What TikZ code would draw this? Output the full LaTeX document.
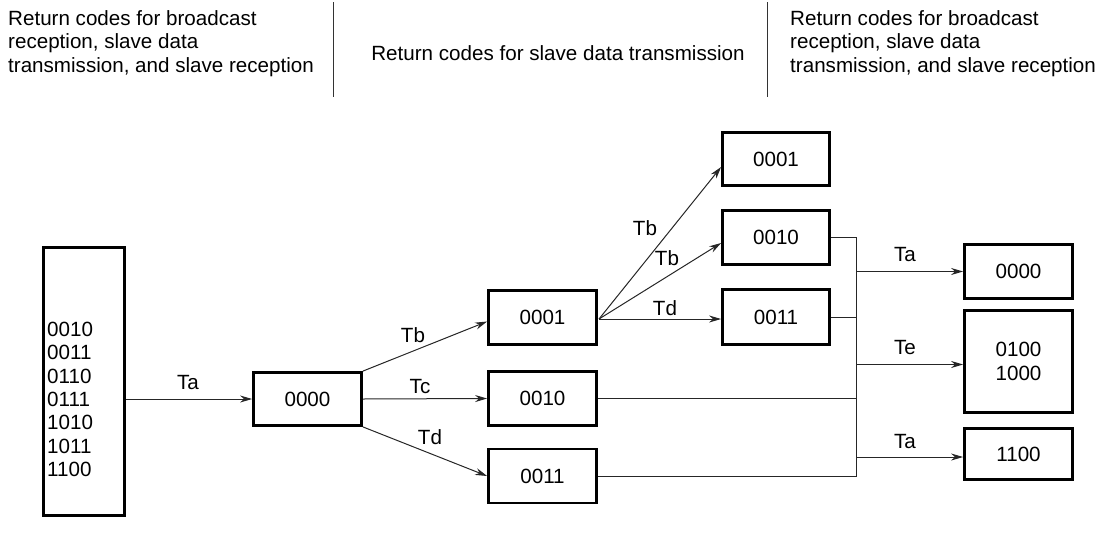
\documentclass[tikz,border=0pt]{standalone}
\usepackage{fontspec}
\setmainfont{Liberation Sans}
\usetikzlibrary{arrows.meta}
\begin{document}
\begin{tikzpicture}[x=1pt,y=-1pt,
  every node/.style={font=\fontsize{20.6}{23.3}\selectfont},
  codebox/.style={draw, line width=2.8pt, inner sep=0pt, minimum width=108pt, minimum height=54pt},
  lbl/.style={inner sep=0pt},
  conn/.style={line width=1pt, black!85},
  arr/.style={conn, -{Stealth[length=12pt,width=7pt]}},
  sep/.style={line width=0.9pt, black!80}]
\useasboundingbox (0,0) rectangle (1107,546);
% header
\node[lbl, anchor=west, align=left] (hl) at (8,43.5) {Return codes for broadcast\\reception, slave data\\transmission, and slave reception};
\node[lbl] (hm) at (558,53) {Return codes for slave data transmission};
\node[lbl, anchor=west, align=left] (hr) at (790,43.5) {Return codes for broadcast\\reception, slave data\\transmission, and slave reception};
\coordinate (s1a) at (333,2); \coordinate (s1b) at (333,97);
\coordinate (s2a) at (767,2); \coordinate (s2b) at (767,97);
\draw[sep] (s1a) -- (s1b);
\draw[sep] (s2a) -- (s2b);
% boxes
\node[codebox, minimum width=81pt, minimum height=268pt] (big) at (84,381.5) {};
\node[lbl, anchor=west, align=left] (bigtxt) at (47,399.5) {0010\\0011\\0110\\0111\\1010\\1011\\1100};
\node[codebox, minimum height=53pt] (n0) at (307.5,399) {0000};
\node[codebox] (m1) at (542.5,317.5) {0001};
\node[codebox] (m2) at (542.5,398.5) {0010};
\node[codebox] (m3) at (542.5,476) {0011};
\node[codebox, minimum width=107pt, minimum height=53pt] (t1) at (776,159) {0001};
\node[codebox, minimum width=107pt, minimum height=54pt] (t2) at (776,237.5) {0010};
\node[codebox, minimum width=107pt, minimum height=55pt] (t3) at (776,317) {0011};
\node[codebox] (r1) at (1018.5,271.5) {0000};
\node[codebox, minimum height=102pt, align=center] (r2) at (1018.5,361.5) {0100\\1000};
\node[codebox, minimum height=51pt] (r3) at (1018.5,454) {1100};
% left arrows
\draw[arr] (big.east |- n0.west) -- (n0.west);
\node[lbl] (lta) at (188,383) {Ta};
\draw[arr] (n0.north east) -- ([yshift=-4pt]m1.west);
\draw[arr] (n0.east) -- (m2.west);
\draw[arr] (n0.south east) -- (m3.west);
\node[lbl] (ltb) at (413,335) {Tb};
\node[lbl] (ltc) at (420,387) {Tc};
\node[lbl] (ltd) at (430,437) {Td};
% fan from m1
\coordinate (fan) at (599,319);
\draw[arr] (fan) -- ([yshift=-8pt]t1.west);
\draw[arr] (fan) -- ([yshift=-5.5pt]t2.west);
\draw[arr] (fan) -- ([yshift=-2pt]t3.west);
\node[lbl] (ltb1) at (645,228) {Tb};
\node[lbl] (ltb2) at (667,258) {Tb};
\node[lbl] (ltd2) at (665,308) {Td};
% right collector
\coordinate (jx) at (856,0);
\draw[conn] (t2.east) -| (jx |- m3.east) -- (m3.east);
\draw[conn] (t3.east) -- (jx |- t3.east);
\draw[conn] (m2.east) -- (jx |- m2.east);
\draw[arr] (jx |- r1.west) -- (r1.west);
\draw[arr] ([yshift=-3pt]jx |- r2.west) -- ([yshift=-3pt]r2.west);
\draw[arr] ([yshift=-3pt]jx |- r3.west) -- ([yshift=-3pt]r3.west);
\node[lbl] (lra1) at (905,255) {Ta};
\node[lbl] (lre) at (905,348) {Te};
\node[lbl] (lra2) at (905,442) {Ta};
\end{tikzpicture}
\end{document}
